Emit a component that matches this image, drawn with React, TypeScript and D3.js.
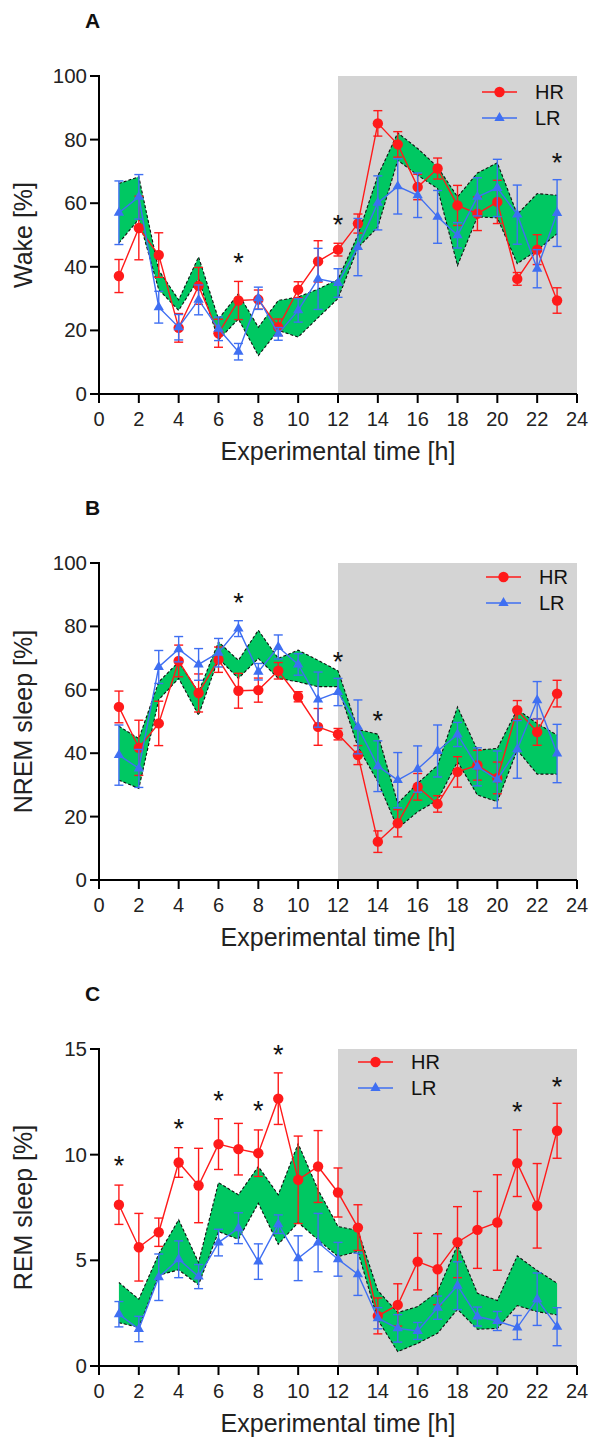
import React from 'react';
import * as d3 from 'd3';

const hours = [1, 2, 3, 4, 5, 6, 7, 8, 9, 10, 11, 12, 13, 14, 15, 16, 17, 18, 19, 20, 21, 22, 23];
const xTicks = [0, 2, 4, 6, 8, 10, 12, 14, 16, 18, 20, 22, 24];
const pctTicks = [0, 20, 40, 60, 80, 100];
const remTicks = [0, 5, 10, 15];
const seriesNames = ['HR', 'LR'];

// Panel A: Wake
const wakeHR = [37.1, 52.2, 43.7, 20.8, 34.0, 19.1, 29.4, 29.7, 21.0, 32.8, 41.7, 45.4, 53.6, 85.1, 78.5, 65.1, 70.9, 59.3, 56.7, 60.4, 36.2, 45.4, 29.4];
const wakeHRerr = [5.2, 10, 7, 4.5, 5.8, 4.4, 6, 3, 2.6, 2.5, 6.5, 2, 3, 4, 4, 4, 3.3, 6.3, 5.3, 6.8, 2, 4.7, 4];
const wakeLR = [57.0, 62.0, 27.3, 21.0, 29.6, 20.5, 13.3, 30.1, 18.9, 26.3, 36.2, 34.9, 46.2, 60.1, 65.3, 62.5, 55.7, 49.9, 62.0, 64.8, 56.4, 39.4, 56.9];
const wakeLRerr = [10, 7, 5, 4, 4.7, 3.7, 2.6, 3.5, 2, 3.7, 9.6, 4.5, 9, 8.5, 8.7, 7, 8.3, 4, 6, 9, 9.3, 6, 10.5];
const wakeUp = [66.2, 68.3, 38.9, 29.6, 43.1, 23.6, 31.5, 21.0, 29.4, 30.5, 33.0, 36.0, 50.0, 68.6, 82.1, 77.2, 71.4, 62.0, 69.5, 72.7, 56.5, 63.0, 62.5];
const wakeLo = [47.5, 55.0, 32.8, 26.3, 36.2, 17.0, 23.6, 12.1, 20.0, 17.9, 24.0, 30.0, 46.0, 52.5, 73.5, 68.8, 64.6, 40.4, 55.7, 55.4, 41.0, 45.2, 50.4];
const wakeStarHours = [7, 12, 23];
const wakeStarValues = [43, 55, 74.6];

// Panel B: NREM sleep
const nremHR = [54.6, 41.7, 49.4, 69.1, 59.0, 69.5, 59.7, 59.9, 66.0, 57.8, 48.3, 46.0, 39.4, 12.1, 17.9, 29.4, 24.0, 34.1, 36.2, 32.2, 53.6, 46.7, 58.8];
const nremHRerr = [5, 8.7, 7, 5, 6, 4, 5.5, 3.8, 2.6, 1.6, 5.8, 1.8, 3, 3.4, 4.3, 4.2, 2.6, 4.8, 4.7, 5, 3, 4.2, 4.2];
const nremLR = [39.4, 35.2, 67.2, 72.8, 68.0, 71.7, 79.3, 65.7, 73.5, 68.0, 56.9, 59.3, 48.3, 35.9, 31.5, 35.0, 40.7, 45.9, 35.7, 31.7, 41.2, 56.7, 39.9];
const nremLRerr = [9.5, 6, 5.2, 4, 5, 4.5, 2.5, 2.6, 3.8, 3.4, 8.7, 4.3, 8.5, 8, 8.7, 7.3, 8.2, 3.8, 6, 9, 9.1, 5.9, 9.2];
const nremUp = [48.5, 44.6, 62.5, 68.8, 59.3, 75.1, 69.3, 78.8, 69.9, 72.5, 69.3, 66.0, 47.5, 46.0, 24.2, 30.5, 36.2, 54.6, 41.0, 41.5, 53.8, 49.4, 45.7];
const nremLo = [31.5, 28.9, 56.9, 63.6, 52.0, 69.9, 63.6, 69.9, 63.6, 62.5, 61.0, 61.0, 42.0, 31.0, 16.3, 21.5, 25.2, 37.3, 26.8, 24.7, 41.0, 33.4, 33.4];
const nremStarHours = [7, 12, 14];
const nremStarValues = [89.3, 70.6, 52];

// Panel C: REM sleep
const remHR = [7.63, 5.62, 6.33, 9.63, 8.54, 10.5, 10.26, 10.07, 12.65, 8.81, 9.44, 8.21, 6.55, 2.37, 2.89, 4.94, 4.58, 5.86, 6.44, 6.79, 9.6, 7.58, 11.13];
const remHRerr = [0.93, 1.6, 0.67, 0.7, 1.76, 1.2, 1.22, 1.1, 1.22, 2.07, 1.7, 1.16, 1.08, 0.85, 1.0, 1.34, 1.68, 1.68, 1.82, 2.26, 1.58, 2.0, 1.3];
const remLR = [2.45, 1.75, 4.2, 5.05, 4.23, 5.84, 6.52, 4.94, 6.71, 5.1, 5.84, 5.05, 4.34, 2.26, 1.78, 1.66, 2.76, 3.8, 2.34, 2.13, 1.82, 3.16, 1.86];
const remLRerr = [0.6, 0.6, 1.1, 0.87, 0.57, 0.63, 0.73, 0.84, 0.44, 1.06, 1.38, 0.8, 1.0, 0.5, 0.65, 0.4, 0.55, 1.13, 0.45, 0.45, 0.57, 1.24, 0.9];
const remUp = [3.95, 3.16, 5.3, 6.92, 4.9, 8.68, 8.1, 9.44, 8.1, 10.52, 8.34, 6.6, 6.41, 3.57, 2.53, 2.81, 3.52, 5.73, 3.44, 3.1, 5.21, 4.52, 3.92];
const remLo = [2.05, 1.83, 4.3, 4.55, 3.84, 6.36, 6.0, 7.7, 5.76, 6.79, 5.97, 5.18, 5.42, 2.18, 0.68, 1.07, 1.55, 2.68, 1.74, 1.78, 2.86, 2.57, 2.42];
const remStarHours = [1, 4, 6, 8, 9, 21, 23];
const remStarValues = [9.73, 11.5, 12.84, 12.36, 15.0, 12.28, 13.5];

const FONT = '"Liberation Sans", Arial, Helvetica, sans-serif';
const RED = '#ff1a1a';
const BLUE = '#3f6ff2';
const GREEN = '#00c862';
const GRAY = '#d4d4d4';

type Cfg = {
  letter: string;
  yLabel: string;
  top: number;
  bottom: number;
  yMax: number;
  yTicks: number[];
  hr: number[];
  hrErr: number[];
  lr: number[];
  lrErr: number[];
  up: number[];
  lo: number[];
  starH: number[];
  starV: number[];
  legX: number;
  legY: number;
};

const panels: Cfg[] = [
  { letter: 'A', yLabel: 'Wake [%]', top: 76, bottom: 394, yMax: 100, yTicks: pctTicks, hr: wakeHR, hrErr: wakeHRerr, lr: wakeLR, lrErr: wakeLRerr, up: wakeUp, lo: wakeLo, starH: wakeStarHours, starV: wakeStarValues, legX: 482, legY: 92 },
  { letter: 'B', yLabel: 'NREM sleep [%]', top: 563, bottom: 880, yMax: 100, yTicks: pctTicks, hr: nremHR, hrErr: nremHRerr, lr: nremLR, lrErr: nremLRerr, up: nremUp, lo: nremLo, starH: nremStarHours, starV: nremStarValues, legX: 486, legY: 577 },
  { letter: 'C', yLabel: 'REM sleep [%]', top: 1049, bottom: 1366, yMax: 15, yTicks: remTicks, hr: remHR, hrErr: remHRerr, lr: remLR, lrErr: remLRerr, up: remUp, lo: remLo, starH: remStarHours, starV: remStarValues, legX: 358, legY: 1062 },
];

const triPath = d3.symbol().type(d3.symbolTriangle).size(46)() as string;

function Series({ x, y, vals, errs, color, kind }: any) {
  const line = d3.line<number>().x((_, i) => x(hours[i])).y((v) => y(v));
  return (
    <g>
      <path d={line(vals) as string} fill="none" stroke={color} strokeWidth={1.4} />
      {vals.map((v: number, i: number) => {
        const cx = x(hours[i]);
        const y1 = y(v + errs[i]);
        const y2 = y(v - errs[i]);
        return (
          <g key={i} stroke={color} strokeWidth={1.4}>
            <line x1={cx} x2={cx} y1={y1} y2={y2} />
            <line x1={cx - 4.5} x2={cx + 4.5} y1={y1} y2={y1} />
            <line x1={cx - 4.5} x2={cx + 4.5} y1={y2} y2={y2} />
          </g>
        );
      })}
      {vals.map((v: number, i: number) =>
        kind === 'circle' ? (
          <circle key={'m' + i} cx={x(hours[i])} cy={y(v)} r={5.2} fill={color} />
        ) : (
          <path key={'m' + i} d={triPath} transform={`translate(${x(hours[i])},${y(v)})`} fill={color} />
        )
      )}
    </g>
  );
}

function Panel({ c }: { c: Cfg }) {
  const x = d3.scaleLinear().domain([0, 24]).range([99, 577]);
  const y = d3.scaleLinear().domain([0, c.yMax]).range([c.bottom, c.top]);
  const area = d3
    .area<number>()
    .x((_, i) => x(hours[i]))
    .y0((_, i) => y(c.lo[i]))
    .y1((v) => y(v));
  const lineF = d3.line<number>().x((_, i) => x(hours[i])).y((v) => y(v));
  const midY = (c.top + c.bottom) / 2;
  return (
    <g fontFamily={FONT}>
      <text x={85} y={c.top - 48} fontSize={21} fontWeight="bold" fill="#111">{c.letter}</text>
      <rect x={x(12)} y={y(c.yMax)} width={x(24) - x(12)} height={y(0) - y(c.yMax)} fill={GRAY} />
      <path d={area(c.up) as string} fill={GREEN} stroke="none" />
      <path d={lineF(c.up) as string} fill="none" stroke="#111" strokeWidth={1.1} strokeDasharray="3,2" />
      <path d={lineF(c.lo) as string} fill="none" stroke="#111" strokeWidth={1.1} strokeDasharray="3,2" />
      <Series x={x} y={y} vals={c.hr} errs={c.hrErr} color={RED} kind="circle" />
      <Series x={x} y={y} vals={c.lr} errs={c.lrErr} color={BLUE} kind="tri" />
      {/* axes */}
      <line x1={x(0)} x2={x(24)} y1={y(0)} y2={y(0)} stroke="#000" strokeWidth={2} />
      <line x1={x(0)} x2={x(0)} y1={y(0) + 1} y2={y(c.yMax) - 1} stroke="#000" strokeWidth={2} />
      {xTicks.map((t) => (
        <g key={'xt' + t}>
          <line x1={x(t)} x2={x(t)} y1={y(0)} y2={y(0) + 9} stroke="#000" strokeWidth={2} />
          <text x={x(t)} y={y(0) + 32} fontSize={20} textAnchor="middle" fill="#222">{t}</text>
        </g>
      ))}
      {c.yTicks.map((t) => (
        <g key={'yt' + t}>
          <line x1={x(0) - 9} x2={x(0)} y1={y(t)} y2={y(t)} stroke="#000" strokeWidth={2} />
          <text x={x(0) - 12} y={y(t) + 7} fontSize={20.5} textAnchor="end" fill="#222">{t}</text>
        </g>
      ))}
      <text x={(x(0) + x(24)) / 2} y={y(0) + 66} fontSize={25} textAnchor="middle" fill="#222">Experimental time [h]</text>
      <text transform={`translate(32,${midY}) rotate(-90)`} fontSize={25} textAnchor="middle" fill="#222">{c.yLabel}</text>
      {c.starH.map((h, i) => (
        <text key={'s' + i} x={x(h)} y={y(c.starV[i]) + 15} fontSize={27} textAnchor="middle" fill="#111">*</text>
      ))}
      {/* legend */}
      {seriesNames.map((name, i) => {
        const ly = c.legY + i * 26;
        const color = i === 0 ? RED : BLUE;
        return (
          <g key={name}>
            <line x1={c.legX} x2={c.legX + 35} y1={ly} y2={ly} stroke={color} strokeWidth={1.4} />
            {i === 0 ? (
              <circle cx={c.legX + 17.5} cy={ly} r={5.2} fill={color} />
            ) : (
              <path d={triPath} transform={`translate(${c.legX + 17.5},${ly})`} fill={color} />
            )}
            <text x={c.legX + 53} y={ly + 7} fontSize={20} fill="#111">{name}</text>
          </g>
        );
      })}
    </g>
  );
}

export default function App() {
  return (
    <svg
      width={591}
      height={1439}
      viewBox="0 0 591 1439"
      style={{ position: 'absolute', left: 0, top: 0, background: '#fff', display: 'block' }}
    >
      <rect x={0} y={0} width={591} height={1439} fill="#fff" />
      {panels.map((p) => (
        <Panel key={p.letter} c={p} />
      ))}
    </svg>
  );
}
